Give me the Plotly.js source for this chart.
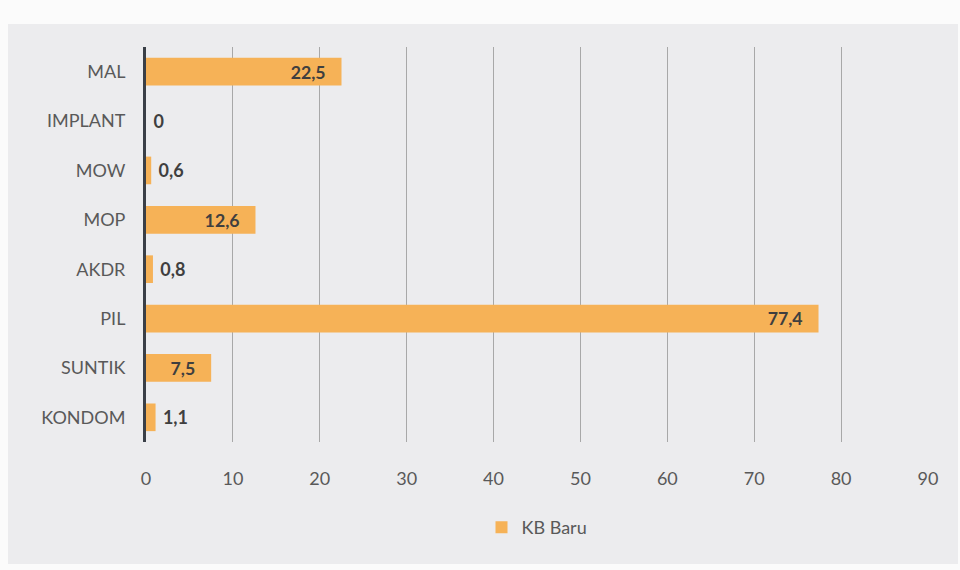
<!DOCTYPE html>
<html>
<head>
<meta charset="utf-8">
<script src="https://cdn.plot.ly/plotly-3.0.1.min.js"></script>
<style>
html,body{margin:0;padding:0;background:#fbfbfb;width:960px;height:570px;overflow:hidden;}
#chart{position:absolute;left:8px;top:24px;width:950px;height:540px;}
</style>
</head>
<body>
<div id="chart"></div>
<script>
const categories = ["MAL","IMPLANT","MOW","MOP","AKDR","PIL","SUNTIK","KONDOM"];
const kbBaru = [22.5, 0, 0.6, 12.6, 0.8, 77.4, 7.5, 1.1];
const xTicks = [0,10,20,30,40,50,60,70,80,90];
const seriesName = "KB Baru";

const insideThreshold = 5;
const fmt = v => v === 0 ? "0" : v.toFixed(1).replace(".", ",");
const labels = kbBaru.map(v => v > insideThreshold ? fmt(v) + "\u00a0\u00a0\u00a0" : "\u00a0" + fmt(v));

const FONT = "Lato, 'Open Sans', sans-serif";

const trace = {
  type: "bar",
  orientation: "h",
  y: categories,
  x: kbBaru,
  name: seriesName,
  marker: {color: "#f6b257"},
  text: labels,
  textposition: kbBaru.map(v => v > insideThreshold ? "inside" : "outside"),
  insidetextanchor: "end",
  textfont: {family: FONT, size: 18, color: "#3f3f3f", weight: "bold"},
  cliponaxis: false,
  hoverinfo: "skip"
};

const layout = {
  width: 950, height: 540,
  margin: {l: 138, r: 30, t: 23, b: 122},
  paper_bgcolor: "#ececee",
  plot_bgcolor: "#ececee",
  bargap: 0.44,
  font: {family: FONT, color: "#595959", size: 18},
  xaxis: {
    range: [0, 90],
    tickvals: xTicks,
    ticktext: xTicks.map(String),
    showgrid: true,
    gridcolor: "#a8a8a8",
    gridwidth: 1,
    zeroline: false,
    showline: false,
    ticks: "",
    ticklabelstandoff: 24,
    tickfont: {size: 18, color: "#595959"},
    fixedrange: true
  },
  yaxis: {
    autorange: "reversed",
    showline: true,
    linecolor: "#3a3f47",
    linewidth: 3,
    showgrid: false,
    ticks: "",
    ticklabelstandoff: 14,
    tickfont: {size: 18, color: "#595959"},
    fixedrange: true
  },
  showlegend: true,
  legend: {
    orientation: "h",
    x: 0.5, xanchor: "center",
    y: -0.17, yanchor: "top",
    font: {size: 18, color: "#595959"},
    itemwidth: 30
  }
};

Plotly.newPlot("chart", [trace], layout, {displayModeBar: false, staticPlot: true});
</script>
</body>
</html>
